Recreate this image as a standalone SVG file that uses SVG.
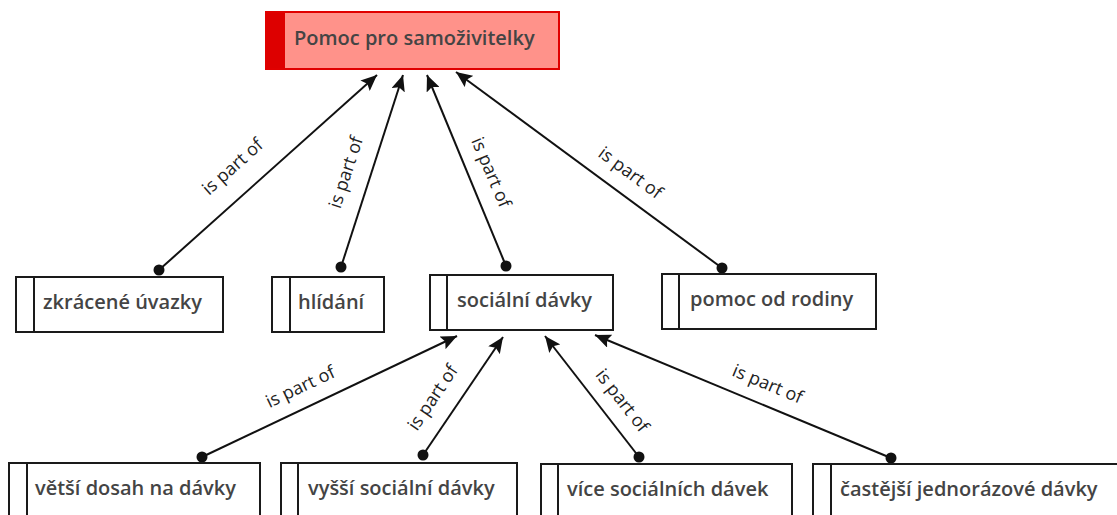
<svg xmlns="http://www.w3.org/2000/svg" width="1117" height="515" viewBox="0 0 1117 515">
  <style>
    .box { fill: #ffffff; stroke: #1a1a1a; stroke-width: 2; }
    .bar { stroke: #1a1a1a; stroke-width: 2; }
    .root { fill: #ff928a; stroke: #e00000; stroke-width: 2; }
    .rootbar { fill: #dd0000; }
    .ntext { font-family: "Open Sans", "Noto Sans", sans-serif; font-weight: 600; font-size: 20px; fill: #444444; }
    .rtext { font-family: "Open Sans", "Noto Sans", sans-serif; font-weight: 600; font-size: 20px; fill: #444444; }
    .edge { stroke: #111111; stroke-width: 2; fill: none; marker-end: url(#arrow); }
    .dot { fill: #111111; }
    .ltext { font-family: "Open Sans", "Noto Sans", sans-serif; font-size: 18px; fill: #222222; text-anchor: middle; dominant-baseline: central; }
  </style>
  <defs>
    <marker id="arrow" viewBox="0 0 16 14" refX="16" refY="7" markerWidth="16" markerHeight="14" markerUnits="userSpaceOnUse" orient="auto">
      <path d="M0,0 L16,7 L0,14 L3,7 z" fill="#111111"/>
    </marker>
  </defs>

  <!-- connectors -->
  <g id="connectors">
    <line class="edge" x1="159" y1="270" x2="377" y2="75"/>
    <circle class="dot" cx="159" cy="270" r="5.5"/>
    <text class="ltext" transform="translate(232,166) rotate(-41.7)">is part of</text>

    <line class="edge" x1="341" y1="267" x2="403" y2="75"/>
    <circle class="dot" cx="341" cy="267" r="5.5"/>
    <text class="ltext" transform="translate(345,172) rotate(-72)">is part of</text>

    <line class="edge" x1="506" y1="266" x2="427" y2="75"/>
    <circle class="dot" cx="506" cy="266" r="5.5"/>
    <text class="ltext" transform="translate(492,172) rotate(67)">is part of</text>

    <line class="edge" x1="722" y1="268" x2="456" y2="72"/>
    <circle class="dot" cx="722" cy="268" r="5.5"/>
    <text class="ltext" transform="translate(631,172) rotate(36.4)">is part of</text>

    <line class="edge" x1="202" y1="457" x2="457" y2="336"/>
    <circle class="dot" cx="202" cy="457" r="5.5"/>
    <text class="ltext" transform="translate(300,386) rotate(-25.4)">is part of</text>

    <line class="edge" x1="423" y1="455" x2="503" y2="337"/>
    <circle class="dot" cx="423" cy="455" r="5.5"/>
    <text class="ltext" transform="translate(432,397) rotate(-56)">is part of</text>

    <line class="edge" x1="639" y1="457" x2="545" y2="336"/>
    <circle class="dot" cx="639" cy="457" r="5.5"/>
    <text class="ltext" transform="translate(623,400) rotate(52)">is part of</text>

    <line class="edge" x1="891" y1="458" x2="595" y2="335"/>
    <circle class="dot" cx="891" cy="458" r="5.5"/>
    <text class="ltext" transform="translate(768,383) rotate(22.6)">is part of</text>
  </g>

  <!-- root node -->
  <g id="node-root">
    <rect class="root" x="266" y="12" width="293" height="57"/>
    <rect class="rootbar" x="267" y="13" width="18" height="55"/>
    <text class="rtext" x="294" y="45">Pomoc pro samoživitelky</text>
  </g>

  <!-- second row -->
  <g id="node-zkracene">
    <rect class="box" x="16" y="277" width="207" height="55"/>
    <line class="bar" x1="34" y1="277" x2="34" y2="332"/>
    <text class="ntext" x="43" y="309">zkrácené úvazky</text>
  </g>
  <g id="node-hlidani">
    <rect class="box" x="272" y="277" width="112" height="55"/>
    <line class="bar" x1="290" y1="277" x2="290" y2="332"/>
    <text class="ntext" x="298" y="309">hlídání</text>
  </g>
  <g id="node-socialni">
    <rect class="box" x="430" y="275" width="183" height="55"/>
    <line class="bar" x1="447" y1="275" x2="447" y2="330"/>
    <text class="ntext" x="457" y="307">sociální dávky</text>
  </g>
  <g id="node-rodina">
    <rect class="box" x="662" y="274" width="214" height="55"/>
    <line class="bar" x1="679" y1="274" x2="679" y2="329"/>
    <text class="ntext" x="690" y="306">pomoc od rodiny</text>
  </g>

  <!-- bottom row -->
  <g id="node-vetsi">
    <rect class="box" x="9" y="463" width="251" height="60"/>
    <line class="bar" x1="27" y1="463" x2="27" y2="523"/>
    <text class="ntext" x="35" y="495">větší dosah na dávky</text>
  </g>
  <g id="node-vyssi">
    <rect class="box" x="281" y="463" width="236" height="60"/>
    <line class="bar" x1="298" y1="463" x2="298" y2="523"/>
    <text class="ntext" x="308" y="495">vyšší sociální dávky</text>
  </g>
  <g id="node-vice">
    <rect class="box" x="541" y="464" width="251" height="60"/>
    <line class="bar" x1="558" y1="464" x2="558" y2="524"/>
    <text class="ntext" x="567" y="496">více sociálních dávek</text>
  </g>
  <g id="node-castejsi">
    <rect class="box" x="813" y="464" width="320" height="60"/>
    <line class="bar" x1="831" y1="464" x2="831" y2="524"/>
    <text class="ntext" x="840" y="496">častější jednorázové dávky</text>
  </g>
</svg>
